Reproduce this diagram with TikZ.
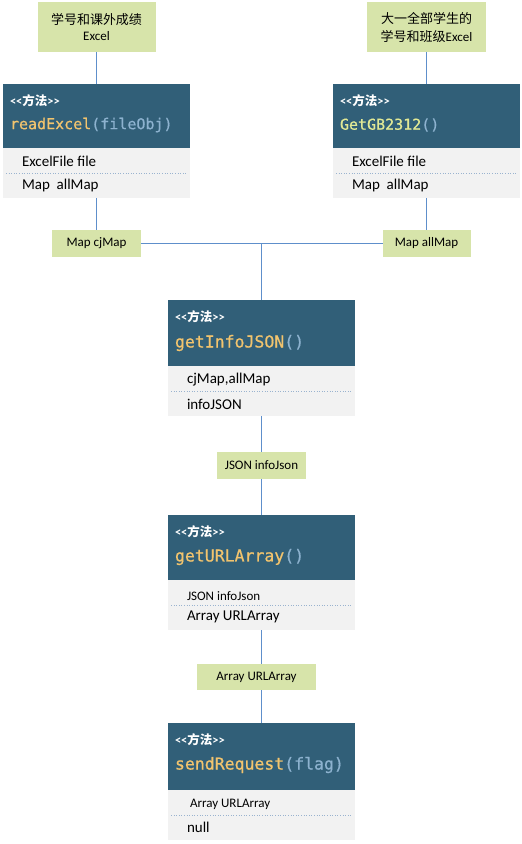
\documentclass[tikz,border=0pt]{standalone}
\usepackage{fontspec}
\usepackage{xcolor}
\setmainfont{Carlito}
\newfontfamily\cjk{Noto Sans CJK SC}
\newfontfamily\tagfont{Carlito}
\newfontfamily\codefont{DejaVu Sans Mono}[FakeBold=0.7]

\definecolor{boxgreen}{HTML}{D7E4AA}
\definecolor{headblue}{HTML}{315F78}
\definecolor{bodygray}{HTML}{F2F2F2}
\definecolor{linkblue}{HTML}{5E8FCB}
\definecolor{namegold}{HTML}{F2C46E}
\definecolor{namelime}{HTML}{E2E995}
\definecolor{parenblue}{HTML}{8DB2CF}
\definecolor{dotblue}{HTML}{9AB3CF}

\begin{document}
\begin{tikzpicture}[x=1pt,y=-1pt]
 \tikzstyle{every node}=[inner sep=0pt, outer sep=0pt]
 \tikzstyle{src}=[rectangle, fill=boxgreen, minimum height=50pt,
                  align=center, font=\fontsize{13}{16}\selectfont]
 \tikzstyle{param}=[rectangle, fill=boxgreen, minimum height=27pt,
                    font=\fontsize{13}{15}\selectfont]
 \tikzstyle{head}=[rectangle, fill=headblue, minimum width=187pt]
 \tikzstyle{body}=[rectangle, fill=bodygray, minimum width=187pt, minimum height=50pt]
 \tikzstyle{tag}=[anchor=west, text=white, font=\fontsize{12.5}{14}\tagfont\bfseries]
 \tikzstyle{method}=[anchor=west, font=\fontsize{16.5}{18}\codefont]
 \tikzstyle{field}=[anchor=west, font=\fontsize{15}{17}\selectfont]
 \tikzstyle{small field}=[anchor=west, font=\fontsize{13}{15}\selectfont]
 \tikzstyle{link}=[linkblue, line width=0.8pt]
 \tikzstyle{sep}=[dotblue, dotted, line width=0.6pt]

        \useasboundingbox (0,0) rectangle (522,844);

        % input files
        \node[src, minimum width=118pt] (s1) at (96.5,27) {{\cjk 学号和课外成绩}\\Excel};
        \node[src, minimum width=119pt] (s2) at (426.5,27) {{\cjk 大一全部学生的}\\[2pt]{\cjk 学号和班级}Excel};

        % readExcel
        \node[head, minimum height=64pt] (h1) at (96.5,116) {};
        \node[tag] (t1) at (10,101) {<<{\cjk\bfseries 方法}>>};
        \node[method, font=\fontsize{15}{17}\codefont] (f1) at (10,125)
            {\textcolor{namegold}{readExcel}\textcolor{parenblue}{(fileObj)}};
        \node[body] (b1) at (96.5,173) {};
        \draw[sep] ([xshift=3pt]b1.west) -- ([xshift=-3pt]b1.east);
        \node[field] (a1) at (22,161) {ExcelFile file};
        \node[field] (a2) at (22,185) {Map\ \ allMap};

        % GetGB2312
        \node[head, minimum height=64pt] (h2) at (426.5,116) {};
        \node[tag] (t2) at (340,101) {<<{\cjk\bfseries 方法}>>};
        \node[method, font=\fontsize{15}{17}\codefont] (f2) at (340,125)
            {\textcolor{namelime}{GetGB2312}\textcolor{parenblue}{()}};
        \node[body] (b2) at (426.5,173) {};
        \draw[sep] ([xshift=3pt]b2.west) -- ([xshift=-3pt]b2.east);
        \node[field] (c1) at (352,161) {ExcelFile file};
        \node[field] (c2) at (352,185) {Map\ \ allMap};

        \node[param, minimum width=89pt] (p1) at (96.5,243.5) {Map cjMap};
        \node[param, minimum width=88pt] (p2) at (426.5,243.5) {Map allMap};

        % getInfoJSON
        \node[head, minimum height=66pt] (h3) at (261.5,333) {};
        \node[tag] (t3) at (175,317) {<<{\cjk\bfseries 方法}>>};
        \node[method] (f3) at (175,343)
            {\textcolor{namegold}{getInfoJSON}\textcolor{parenblue}{()}};
        \node[body] (b3) at (261.5,391) {};
        \draw[sep] ([xshift=3pt]b3.west) -- ([xshift=-3pt]b3.east);
        \node[field] (d1) at (187,380) {cjMap,allMap};
        \node[field] (d2) at (187,404) {infoJSON};

        \node[param, minimum width=89pt] (p3) at (261.5,465.5) {JSON infoJson};

        % getURLArray
        \node[head, minimum height=65pt] (h4) at (261.5,547.5) {};
        \node[tag] (t4) at (175,532) {<<{\cjk\bfseries 方法}>>};
        \node[method] (f4) at (175,557)
            {\textcolor{namegold}{getURLArray}\textcolor{parenblue}{()}};
        \node[body] (b4) at (261.5,605) {};
        \draw[sep] ([xshift=3pt]b4.west) -- ([xshift=-3pt]b4.east);
        \node[small field] (e1) at (187,596) {JSON infoJson};
        \node[field] (e2) at (187,617) {Array URLArray};

        \node[param, minimum width=119pt, minimum height=26pt] (p4) at (256.5,677) {Array URLArray};

        % sendRequest
        \node[head, minimum height=67pt] (h5) at (261.5,756.5) {};
        \node[tag] (t5) at (175,740) {<<{\cjk\bfseries 方法}>>};
        \node[method] (f5) at (175,765)
            {\textcolor{namegold}{sendRequest}\textcolor{parenblue}{(flag)}};
        \node[body] (b5) at (261.5,815) {};
        \draw[sep] ([xshift=3pt]b5.west) -- ([xshift=-3pt]b5.east);
        \node[small field] (g1) at (190,804) {Array URLArray};
        \node[field] (g2) at (187,827) {null};

        \coordinate (j) at (h3.north |- p1.east);
        \coordinate (p4in) at (b4.south |- p4.north);
        \coordinate (p4out) at (h5.north |- p4.south);

        \path[link]
    (s1.south) edge (h1.north)
    (b1.south) edge (p1.north)
    (s2.south) edge (h2.north)
    (b2.south) edge (p2.north)
    (p1.east) edge (p2.west)
    (j) edge (h3.north)
    (b3.south) edge (p3.north)
    (p3.south) edge (h4.north)
    (b4.south) edge (p4in)
    (p4out) edge (h5.north);

\end{tikzpicture}
\end{document}
